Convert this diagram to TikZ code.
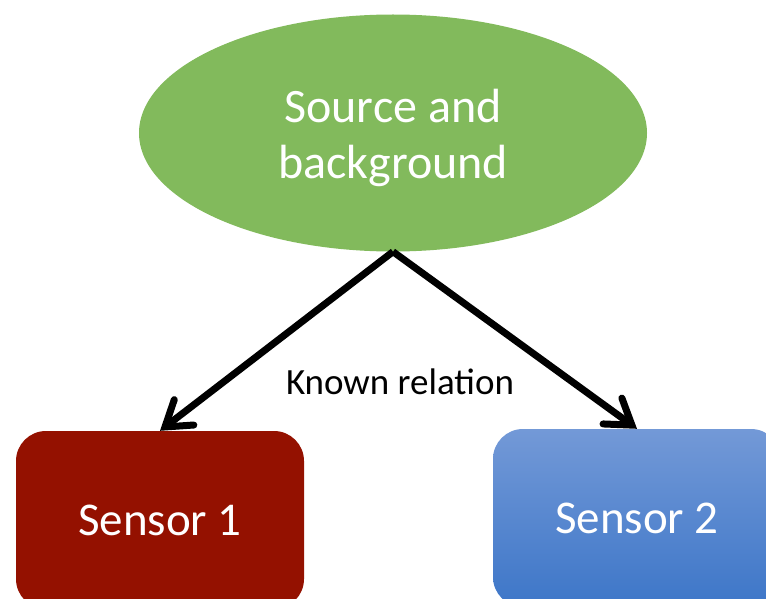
\documentclass[tikz,border=0pt]{standalone}
\usepackage{fontspec}
\setmainfont{Carlito}
\usetikzlibrary{arrows.meta,shapes.geometric}
\definecolor{cSrc}{HTML}{82BA5C}
\definecolor{cSone}{HTML}{941100}
\definecolor{cStwoT}{HTML}{7399D7}
\definecolor{cStwoB}{HTML}{3D76C8}

\begin{document}
\begin{tikzpicture}[x=1pt,y=1pt,
  >={Straight Barb[length=24pt,width=32pt,line cap=round]},
  box/.style={rectangle, rounded corners=30pt, minimum width=288pt, minimum height=178pt,
     inner sep=0pt, text=white, font=\fontsize{47}{56}\selectfont},
  flow/.style={->, line width=7pt, draw=black},
]
\useasboundingbox (0,0) rectangle (766,-599);

% source ellipse (extra room on top pushes the two lines a bit lower)
\node[ellipse, fill=cSrc, minimum width=508pt, minimum height=237pt, inner sep=0pt,
      align=center, text=white, font=\fontsize{48}{56}\selectfont] (src) at (393,-133)
  {\raisebox{0pt}[\dimexpr\height+10pt\relax]{Source and}\\background};

% the two sensors
\node[box, fill=cSone] (s1) at (160,-520) {Sensor 1};
\node[box, top color=cStwoT, bottom color=cStwoB] (s2) at (637,-518) {Sensor 2};

\node[font=\fontsize{37}{44}\selectfont] (rel) at (400,-382) {Known relation};

\draw[flow] (src.south) -- (s1.north);
\draw[flow] (src.south) -- (s2.north);

\end{tikzpicture}
\end{document}
